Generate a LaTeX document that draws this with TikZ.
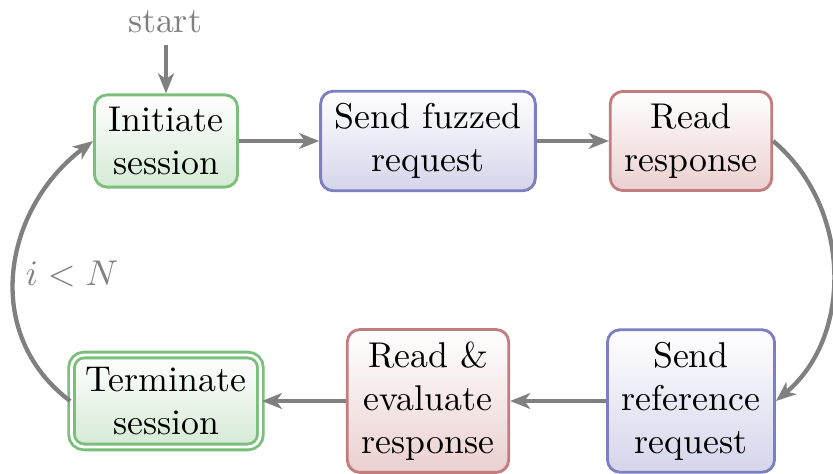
\documentclass[tikz,border=0pt]{standalone}
\usetikzlibrary{arrows.meta}

\definecolor{flowgray}{HTML}{808080}
\definecolor{grnline}{HTML}{7CBF7C}
\definecolor{grnfill}{HTML}{D5EAD5}
\definecolor{bluline}{HTML}{7E7EC2}
\definecolor{blufill}{HTML}{D5D5EB}
\definecolor{redline}{HTML}{C27E7E}
\definecolor{redfill}{HTML}{EBD0D0}

\begin{document}
\begin{tikzpicture}[x=0.2793pt,y=-0.2793pt,
  box/.style={rectangle, rounded corners=3.5pt, thick, align=center,
    inner xsep=4pt, inner ysep=3.4pt, top color=white},
  grnbox/.style={box, draw=grnline, bottom color=grnfill},
  blubox/.style={box, draw=bluline, bottom color=blufill},
  redbox/.style={box, draw=redline, bottom color=redfill},
  endbox/.style={grnbox, double=white, double distance=0.8pt},
  flow/.style={flowgray, very thick, -{Stealth[length=5.6pt,width=4.4pt,inset=1.6pt]}},
  note/.style={text=flowgray, inner sep=0pt}
]
\useasboundingbox (0,0) rectangle (833,474);
\clip (0,0) rectangle (833,474);

% process steps
\node[grnbox] (init) at (166,141) {Initiate\\session};
\node[blubox] (fuzz) at (428,141) {Send fuzzed\\request};
\node[redbox] (read) at (691,141) {Read\\response};
\node[blubox] (sref) at (691,401) {Send\\reference\\request};
\node[redbox] (eval) at (428,401) {Read \&\\evaluate\\response};
\node[endbox] (term) at (166,401) {Terminate\\session};

% entry point
\node[note] (start) at (165,22) {start};
\coordinate (startend) at (166,45);
\draw[flow] (startend) -- (init);

% transitions
\draw[flow] (init) -- (fuzz);
\draw[flow] (fuzz) -- (read);
\draw[flow] (read.east) to[out=-40,in=40] (sref.east);
\draw[flow] (sref) -- (eval);
\draw[flow] (eval) -- (term);
\draw[flow] (term.west) to[out=143,in=217,looseness=1.1] (init.west);

\node[note] (loop) at (72,274) {$i<N$};
\end{tikzpicture}
\end{document}
